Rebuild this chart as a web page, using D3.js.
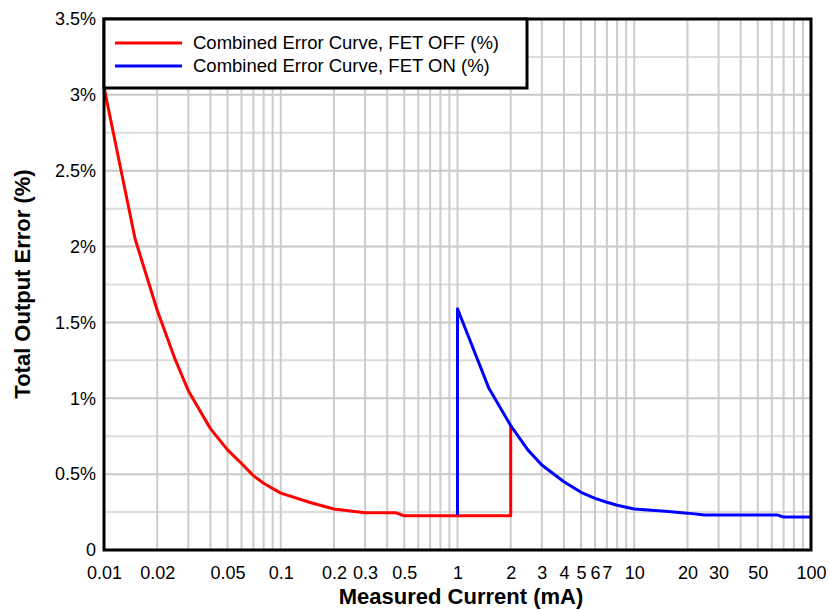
<!DOCTYPE html>
<html>
<head>
<meta charset="utf-8">
<script src="https://cdn.jsdelivr.net/npm/d3@7"></script>
<style>
  body { margin: 0; background: #fff; }
  svg text { font-family: "Liberation Sans", Arial, sans-serif; fill: #000; }
</style>
</head>
<body>
<svg id="chart" width="830" height="610"></svg>
<script>
// current (mA) / error (%)
var offCurrent = [0.01, 0.015, 0.02, 0.025, 0.03, 0.04, 0.05, 0.06, 0.07, 0.08, 0.1, 0.15, 0.2, 0.3, 0.45, 0.5, 2, 2];
var offError   = [3.05, 2.05, 1.58, 1.27, 1.05, 0.80, 0.66, 0.57, 0.49, 0.44, 0.375, 0.31, 0.27, 0.245, 0.245, 0.225, 0.225, 0.82];

var onCurrent = [1, 1, 1.5, 2, 2.5, 3, 4, 5, 6, 7, 8, 10, 15, 20, 25, 50, 65, 70, 100];
var onError   = [0.23, 1.59, 1.07, 0.82, 0.66, 0.56, 0.45, 0.38, 0.34, 0.315, 0.295, 0.27, 0.255, 0.243, 0.23, 0.23, 0.23, 0.217, 0.217];

var xTickVals = [0.01, 0.02, 0.05, 0.1, 0.2, 0.3, 0.5, 1, 2, 3, 4, 5, 6, 7, 10, 20, 30, 50, 100];
var yTickVals = [0, 0.5, 1, 1.5, 2, 2.5, 3, 3.5];
var legendLabels = ["Combined Error Curve, FET OFF (%)", "Combined Error Curve, FET ON (%)"];
var colors = ["#ff0000", "#0000ff"];

function setChart() {
    var svg = d3.select("#chart");
    var left = 104, right = 811, top = 19, bottom = 550;

    var x = d3.scaleLog().domain([0.01, 100]).range([left, right]);
    var y = d3.scaleLinear().domain([0, 3.5]).range([bottom, top]);

    // grid: every log minor tick and every 0.25 %
    var xGrid = [];
    [0.01, 0.1, 1, 10].forEach(function(d) {
        for (var k = 1; k <= 9; k++) xGrid.push(d * k);
    });
    var yGrid = d3.range(0, 3.51, 0.25);

    svg.append("g").selectAll("line").data(yGrid).enter().append("line")
        .attr("x1", left).attr("x2", right)
        .attr("y1", function(d) { return y(d); }).attr("y2", function(d) { return y(d); })
        .style("stroke", function(d, i) { return i % 2 === 0 ? "#c8c8c8" : "#dcdcdc"; })
        .style("stroke-width", 2);

    svg.append("g").selectAll("line").data(xGrid).enter().append("line")
        .attr("x1", function(d) { return x(d); }).attr("x2", function(d) { return x(d); })
        .attr("y1", top).attr("y2", bottom)
        .style("stroke", "#cccccc")
        .style("stroke-width", 2);

    var line = d3.line()
        .x(function(d) { return x(d[0]); })
        .y(function(d) { return y(d[1]); });

    var series = [d3.zip(offCurrent, offError), d3.zip(onCurrent, onError)];
    series.forEach(function(s, i) {
        svg.append("path").datum(s)
            .attr("d", line)
            .style("fill", "none")
            .style("stroke", colors[i])
            .style("stroke-width", 3)
            .style("stroke-linejoin", "round");
    });

    // axes (labels only, frame drawn separately)
    var xAxis = svg.append("g").attr("transform", "translate(0," + bottom + ")")
        .call(d3.axisBottom(x).tickValues(xTickVals).tickFormat(function(d) { return d3.format("~g")(d); }).tickSize(0).tickPadding(16));
    xAxis.select(".domain").remove();
    xAxis.selectAll("text").style("font-size", "18px");

    var yAxis = svg.append("g").attr("transform", "translate(" + left + ",0)")
        .call(d3.axisLeft(y).tickValues(yTickVals).tickFormat(function(d) { return d === 0 ? "0" : d + "%"; }).tickSize(0).tickPadding(8));
    yAxis.select(".domain").remove();
    yAxis.selectAll("text").style("font-size", "18px");

    svg.append("rect")
        .attr("x", left).attr("y", top)
        .attr("width", right - left).attr("height", bottom - top)
        .style("fill", "none").style("stroke", "#000").style("stroke-width", 3);

    // legend
    var lg = svg.append("g");
    lg.append("rect")
        .attr("x", left).attr("y", top)
        .attr("width", 423).attr("height", 69)
        .style("fill", "#fff").style("stroke", "#000").style("stroke-width", 3);
    legendLabels.forEach(function(t, i) {
        var ly = 43 + i * 23;
        lg.append("line").attr("x1", 115).attr("x2", 182).attr("y1", ly).attr("y2", ly)
            .style("stroke", colors[i]).style("stroke-width", 3);
        lg.append("text").attr("x", 193).attr("y", ly + 6).text(t).style("font-size", "18.5px");
    });

    svg.append("text")
        .attr("x", 461).attr("y", 604)
        .attr("text-anchor", "middle")
        .style("font-size", "22px").style("font-weight", "bold")
        .text("Measured Current (mA)");

    svg.append("text")
        .attr("transform", "translate(30,284) rotate(-90)")
        .attr("text-anchor", "middle")
        .style("font-size", "22px").style("font-weight", "bold")
        .text("Total Output Error (%)");
}

setChart();
</script>
</body>
</html>
